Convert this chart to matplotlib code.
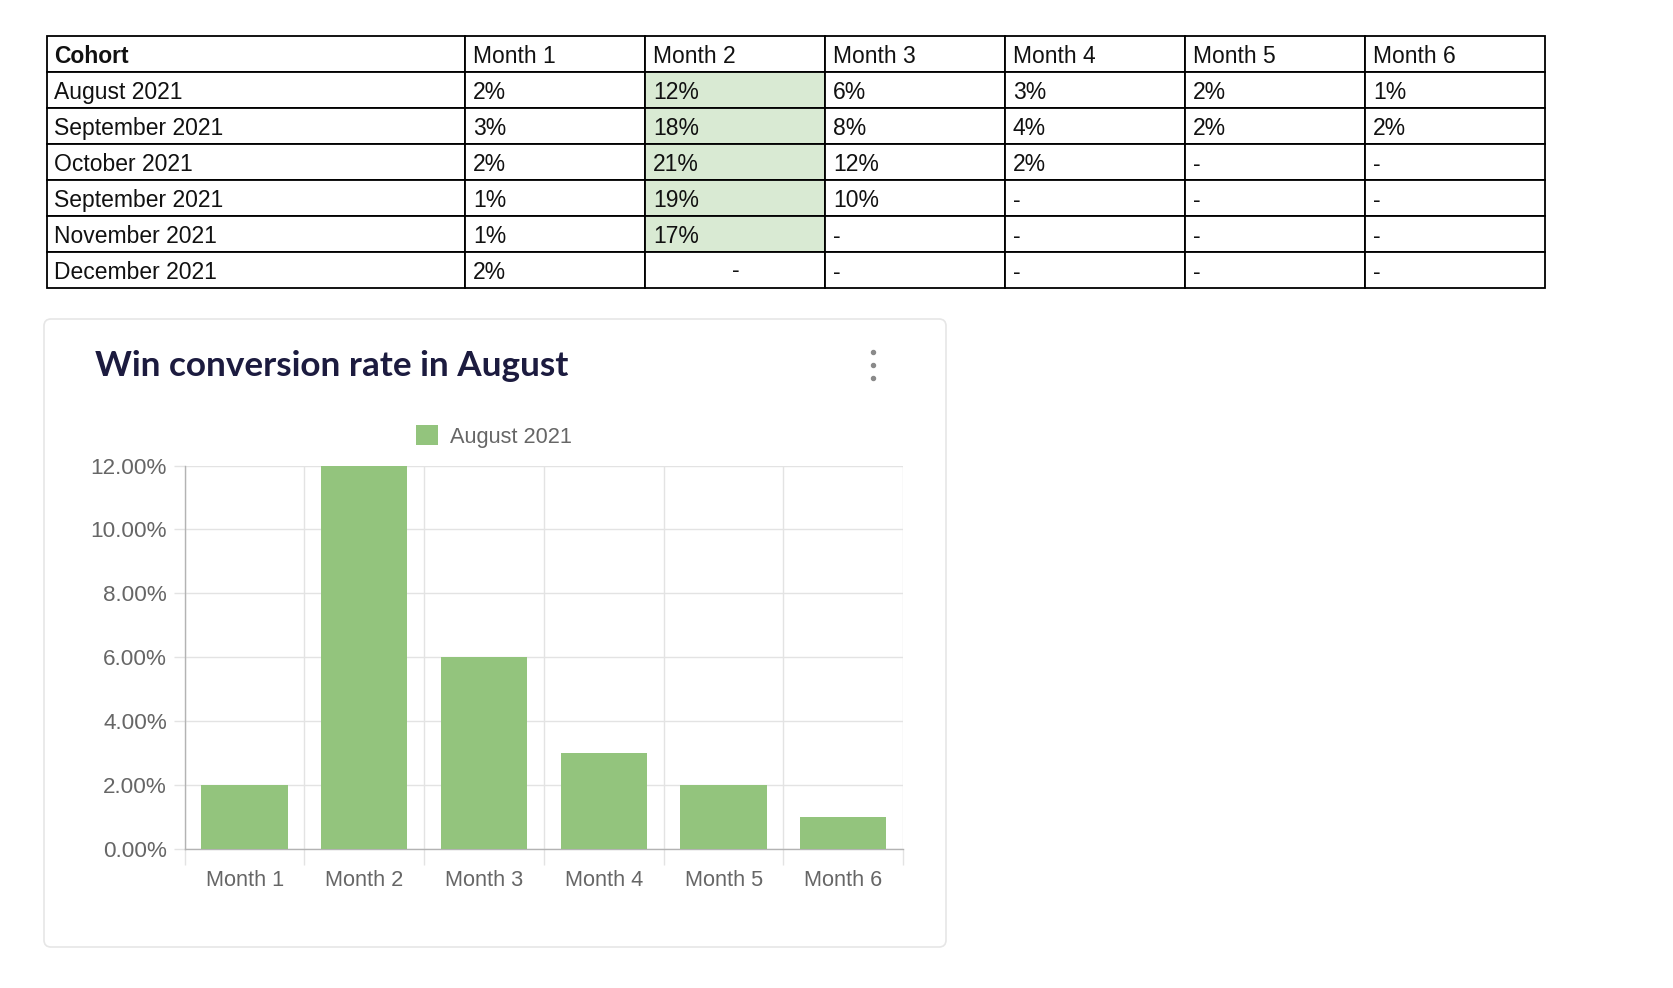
import numpy as np
import matplotlib
matplotlib.use("Agg")
import matplotlib.pyplot as plt
from matplotlib.patches import Rectangle, FancyBboxPatch
from matplotlib.ticker import FuncFormatter, FixedLocator

# --- data ---
months = ["Month 1", "Month 2", "Month 3", "Month 4", "Month 5", "Month 6"]
cohorts = ["August 2021", "September 2021", "October 2021",
           "September 2021", "November 2021", "December 2021"]
aug_2021 = [2, 12, 6, 3, 2, 1]
sep_2021 = [3, 18, 8, 4, 2, 2]
oct_2021 = [2, 21, 12, 2, None, None]
sep_2021_b = [1, 19, 10, None, None, None]
nov_2021 = [1, 17, None, None, None, None]
dec_2021 = [2, None, None, None, None, None]
table_rows = [aug_2021, sep_2021, oct_2021, sep_2021_b, nov_2021, dec_2021]
highlight_col = 1          # Month 2 shaded for the first five cohorts
highlight_rows = 5
chart_title = "Win conversion rate in August"
series_name = "August 2021"
y_ticks = [0, 2, 4, 6, 8, 10, 12]

W, H = 1674, 988
BAR = "#93c47d"
GRID = "#e3e3e3"
LABEL = "#666666"
FONT = "Liberation Sans"

fig = plt.figure(figsize=(W / 100, H / 100), dpi=100)
fig.patch.set_facecolor("white")

# background layer in pixel units: card, title, menu dots
bg = fig.add_axes([0, 0, 1, 1], zorder=0)
bg.set_xlim(0, W)
bg.set_ylim(H, 0)
bg.axis("off")
card = FancyBboxPatch((44, 319), 902, 628, boxstyle="round,pad=0,rounding_size=7",
                      facecolor="white", edgecolor="#e6e6e6", lw=1.2)
bg.add_patch(card)
bg.text(95, 376, chart_title, fontsize=25.3, fontweight="bold", family="Lato",
        color="#1c1b3f", ha="left", va="baseline")
for dy in (352, 365, 378):
    bg.plot(873, dy, "o", ms=2.9, color="#8a8a8a")

# --- table ---
col_w = [418.5] + [180] * len(months)
col_x = np.concatenate([[0], np.cumsum(col_w)])
n_rows = len(cohorts) + 1
tab = fig.add_axes([47 / W, 1 - 288 / H, col_x[-1] / W, 252 / H], zorder=1)
tab.set_xlim(0, col_x[-1])
tab.set_ylim(n_rows, 0)
tab.axis("off")

header = ["Cohort"] + months
body = [[c] + [("-" if v is None else f"{v}%") for v in vals]
        for c, vals in zip(cohorts, table_rows)]
cells = [header] + body
for r, row in enumerate(cells):
    for c, txt in enumerate(row):
        face = "white"
        if c - 1 == highlight_col and 1 <= r <= highlight_rows:
            face = "#d9ead3"
        tab.add_patch(Rectangle((col_x[c], r), col_w[c], 1, facecolor=face,
                                edgecolor="black", lw=1.3, clip_on=False))
        centred = (r == n_rows - 1 and c - 1 == highlight_col)
        if centred:
            tab.text(col_x[c] + col_w[c] / 2, r + 0.5, txt, ha="center", va="center",
                     fontsize=16.5, family=FONT, color="#111111")
        else:
            tab.text(col_x[c] + 7.5, r + 0.56, txt, ha="left", va="center",
                     fontsize=16.5, family=FONT, color="#111111",
                     fontweight="bold" if (r == 0 and c == 0) else "normal")

# --- bar chart ---
ax = fig.add_axes([184.7 / W, 1 - 848.7 / H, 718.5 / W, 383.2 / H], zorder=2)
ax.set_facecolor("none")
x = np.arange(len(months))
ax.bar(x, aug_2021, width=0.72, color=BAR, label=series_name, zorder=3)
ax.set_xlim(-0.5, len(months) - 0.5)
ax.set_ylim(0, 12)

ax.yaxis.set_major_locator(FixedLocator(y_ticks))
ax.yaxis.set_major_formatter(FuncFormatter(lambda v, p: f"{v:.2f}%"))
ax.set_xticks(x)
ax.set_xticklabels(months)
ax.xaxis.set_minor_locator(FixedLocator(np.arange(-0.5, len(months), 1.0)))

ax.grid(axis="y", which="major", color=GRID, lw=1.0, zorder=0)
ax.grid(axis="x", which="minor", color=GRID, lw=1.0, zorder=0)
ax.tick_params(axis="x", which="major", length=0, pad=15, labelsize=15.7,
               labelcolor=LABEL)
ax.tick_params(axis="x", which="minor", length=11.5, color=GRID, width=1.0)
ax.tick_params(axis="y", which="major", length=7.7, color=GRID, width=1.0, pad=5,
               labelsize=16.2, labelcolor=LABEL)
for lab in ax.get_xticklabels() + ax.get_yticklabels():
    lab.set_family(FONT)
for s in ("top", "right"):
    ax.spines[s].set_visible(False)
for s in ("left", "bottom"):
    ax.spines[s].set_color("#b3b3b3")
    ax.spines[s].set_linewidth(1.0)

leg = ax.legend(loc="center", bbox_to_anchor=(0.4305, 1.0754), frameon=False,
                handlelength=1.0, handleheight=1.0, handletextpad=0.55,
                prop={"family": FONT, "size": 15.7})
for t in leg.get_texts():
    t.set_color(LABEL)

fig.savefig("out.png", dpi=100, facecolor="white")
